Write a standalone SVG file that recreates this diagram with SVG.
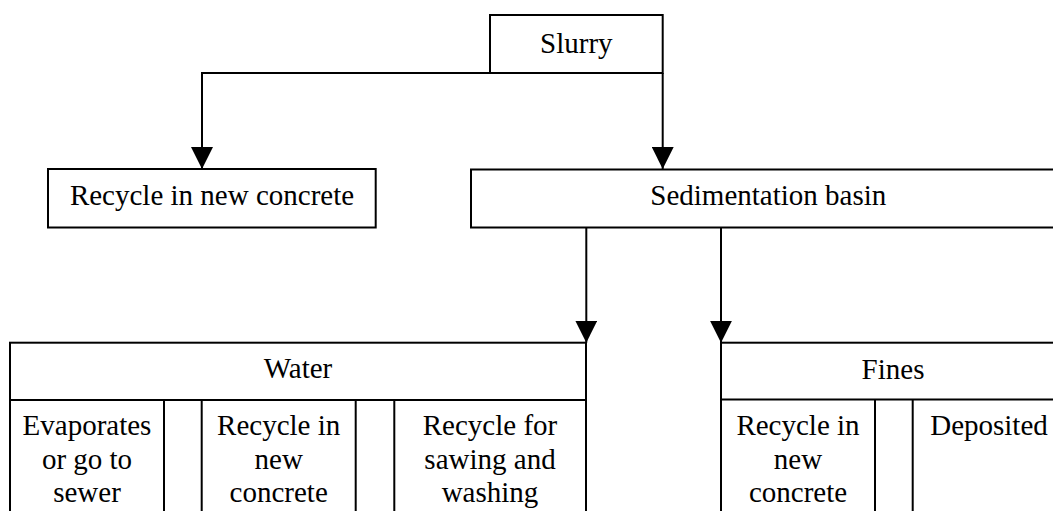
<svg xmlns="http://www.w3.org/2000/svg" width="1053" height="511" viewBox="0 0 1053 511">
<style>
.box{fill:#fff;stroke:#000;stroke-width:2}
.ln{fill:none;stroke:#000;stroke-width:2}
.t{font-family:"Liberation Serif","Times New Roman",serif;font-size:29px;fill:#000;text-anchor:middle}
</style>
<defs>
<marker id="arr" markerUnits="userSpaceOnUse" markerWidth="22" markerHeight="22" viewBox="0 0 22 22" refX="22" refY="11" orient="auto">
<path d="M0,0 L22,11 L0,22 Z" fill="#000"/>
</marker>
</defs>
<rect width="1053" height="511" fill="#fff"/>
<g id="connectors">
<path class="ln" d="M490,73 H202 V169" marker-end="url(#arr)"/>
<path class="ln" d="M662.7,73 V169" marker-end="url(#arr)"/>
<path class="ln" d="M586.3,227.5 V342.7" marker-end="url(#arr)"/>
<path class="ln" d="M721,227.5 V342.7" marker-end="url(#arr)"/>
</g>
<g id="slurry">
<rect class="box" x="490" y="15" width="172.7" height="58"/>
<text class="t" x="576.3" y="53">Slurry</text>
</g>
<g id="recycle-concrete">
<rect class="box" x="48" y="169" width="327.7" height="58.5"/>
<text class="t" x="212" y="205">Recycle in new concrete</text>
</g>
<g id="sedimentation">
<rect class="box" x="471" y="169.5" width="600" height="58"/>
<text class="t" x="768.3" y="205">Sedimentation basin</text>
</g>
<g id="water">
<rect class="box" x="10" y="342.7" width="576" height="190"/>
<path class="ln" d="M10,400 H586 M164,400 V520 M201.7,400 V520 M355.7,400 V520 M394.3,400 V520"/>
<text class="t" x="298" y="378">Water</text>
<text class="t" x="87" y="435">Evaporates</text>
<text class="t" x="87" y="468.5">or go to</text>
<text class="t" x="87" y="502">sewer</text>
<text class="t" x="278.7" y="435">Recycle in</text>
<text class="t" x="278.7" y="468.5">new</text>
<text class="t" x="278.7" y="502">concrete</text>
<text class="t" x="490" y="435">Recycle for</text>
<text class="t" x="490" y="468.5">sawing and</text>
<text class="t" x="490" y="502">washing</text>
</g>
<g id="fines">
<rect class="box" x="721" y="342.7" width="400" height="190"/>
<path class="ln" d="M721,399.5 H1121 M875,399.5 V520 M912.7,399.5 V520"/>
<text class="t" x="893" y="379">Fines</text>
<text class="t" x="798" y="435">Recycle in</text>
<text class="t" x="798" y="468.5">new</text>
<text class="t" x="798" y="502">concrete</text>
<text class="t" x="989" y="435">Deposited</text>
</g>
</svg>
